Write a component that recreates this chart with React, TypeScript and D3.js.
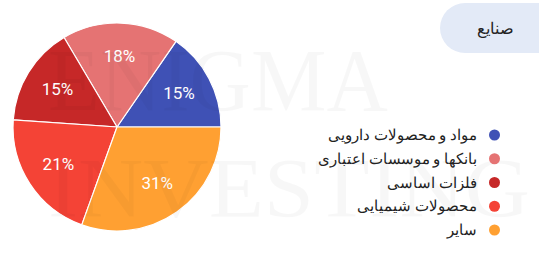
import React from 'react';
import * as d3 from 'd3';

const categories = [
  'مواد و محصولات دارویی',
  'بانکها و موسسات اعتباری',
  'فلزات اساسی',
  'محصولات شیمیایی',
  'سایر',
];
const values = [15.4, 18.1, 15.4, 20.6, 30.5];
const colors = ['#3f51b5', '#e57373', '#c62828', '#f44336', '#ffa032'];
const title = 'صنایع';
const watermark = ['ENIGMA', 'INVESTING'];

export default function App() {
  const W = 539, H = 253;
  const cx = 117, cy = 127, R = 104;
  const total = d3.sum(values);
  const pie = d3.pie<number>().sort(null).value(d => d)
    .startAngle(Math.PI / 2).endAngle(Math.PI / 2 - 2 * Math.PI);
  const arcs = pie(values);
  const arc = d3.arc<d3.PieArcDatum<number>>().innerRadius(0).outerRadius(R);
  const labelArc = d3.arc<d3.PieArcDatum<number>>().innerRadius(70).outerRadius(70);
  const legendY = d3.scalePoint<number>().domain(d3.range(categories.length)).range([135, 230]);

  return (
    <svg width={W} height={H} style={{ position: 'absolute', left: 0, top: 0, background: '#fff' }}>
      <g transform={`translate(${cx},${cy})`}>
        {arcs.map((a, i) => (
          <path key={i} d={arc(a) || ''} fill={colors[i]} stroke="#fff" strokeWidth={1.2} />
        ))}
        {arcs.map((a, i) => {
          const [x, y] = labelArc.centroid(a);
          return (
            <text key={i} x={x} y={y - 1} fill="#fff" fontSize={17} textAnchor="middle"
              dominantBaseline="central" fontFamily="Roboto, sans-serif">
              {Math.round((values[i] / total) * 100) + '%'}
            </text>
          );
        })}
      </g>
      <g fill="#000" fillOpacity={0.03} fontFamily="'Liberation Serif', serif">
        <text x={48} y={110} fontSize={88} textLength={340} lengthAdjust="spacingAndGlyphs">{watermark[0]}</text>
        <text x={48} y={217} fontSize={84} textLength={482} lengthAdjust="spacingAndGlyphs">{watermark[1]}</text>
      </g>
      <rect x={440} y={3} width={140} height={50} rx={25} fill="#e3eaf7" />
      <text x={495} y={28} fontSize={15.5} textAnchor="middle" dominantBaseline="central" fill="#222">{title}</text>
      {categories.map((c, i) => (
        <g key={i}>
          <circle cx={494.5} cy={legendY(i)} r={5.5} fill={colors[i]} />
          <text x={477} y={legendY(i)} fontSize={15} textAnchor="end" dominantBaseline="central" fill="#222">{c}</text>
        </g>
      ))}
    </svg>
  );
}
